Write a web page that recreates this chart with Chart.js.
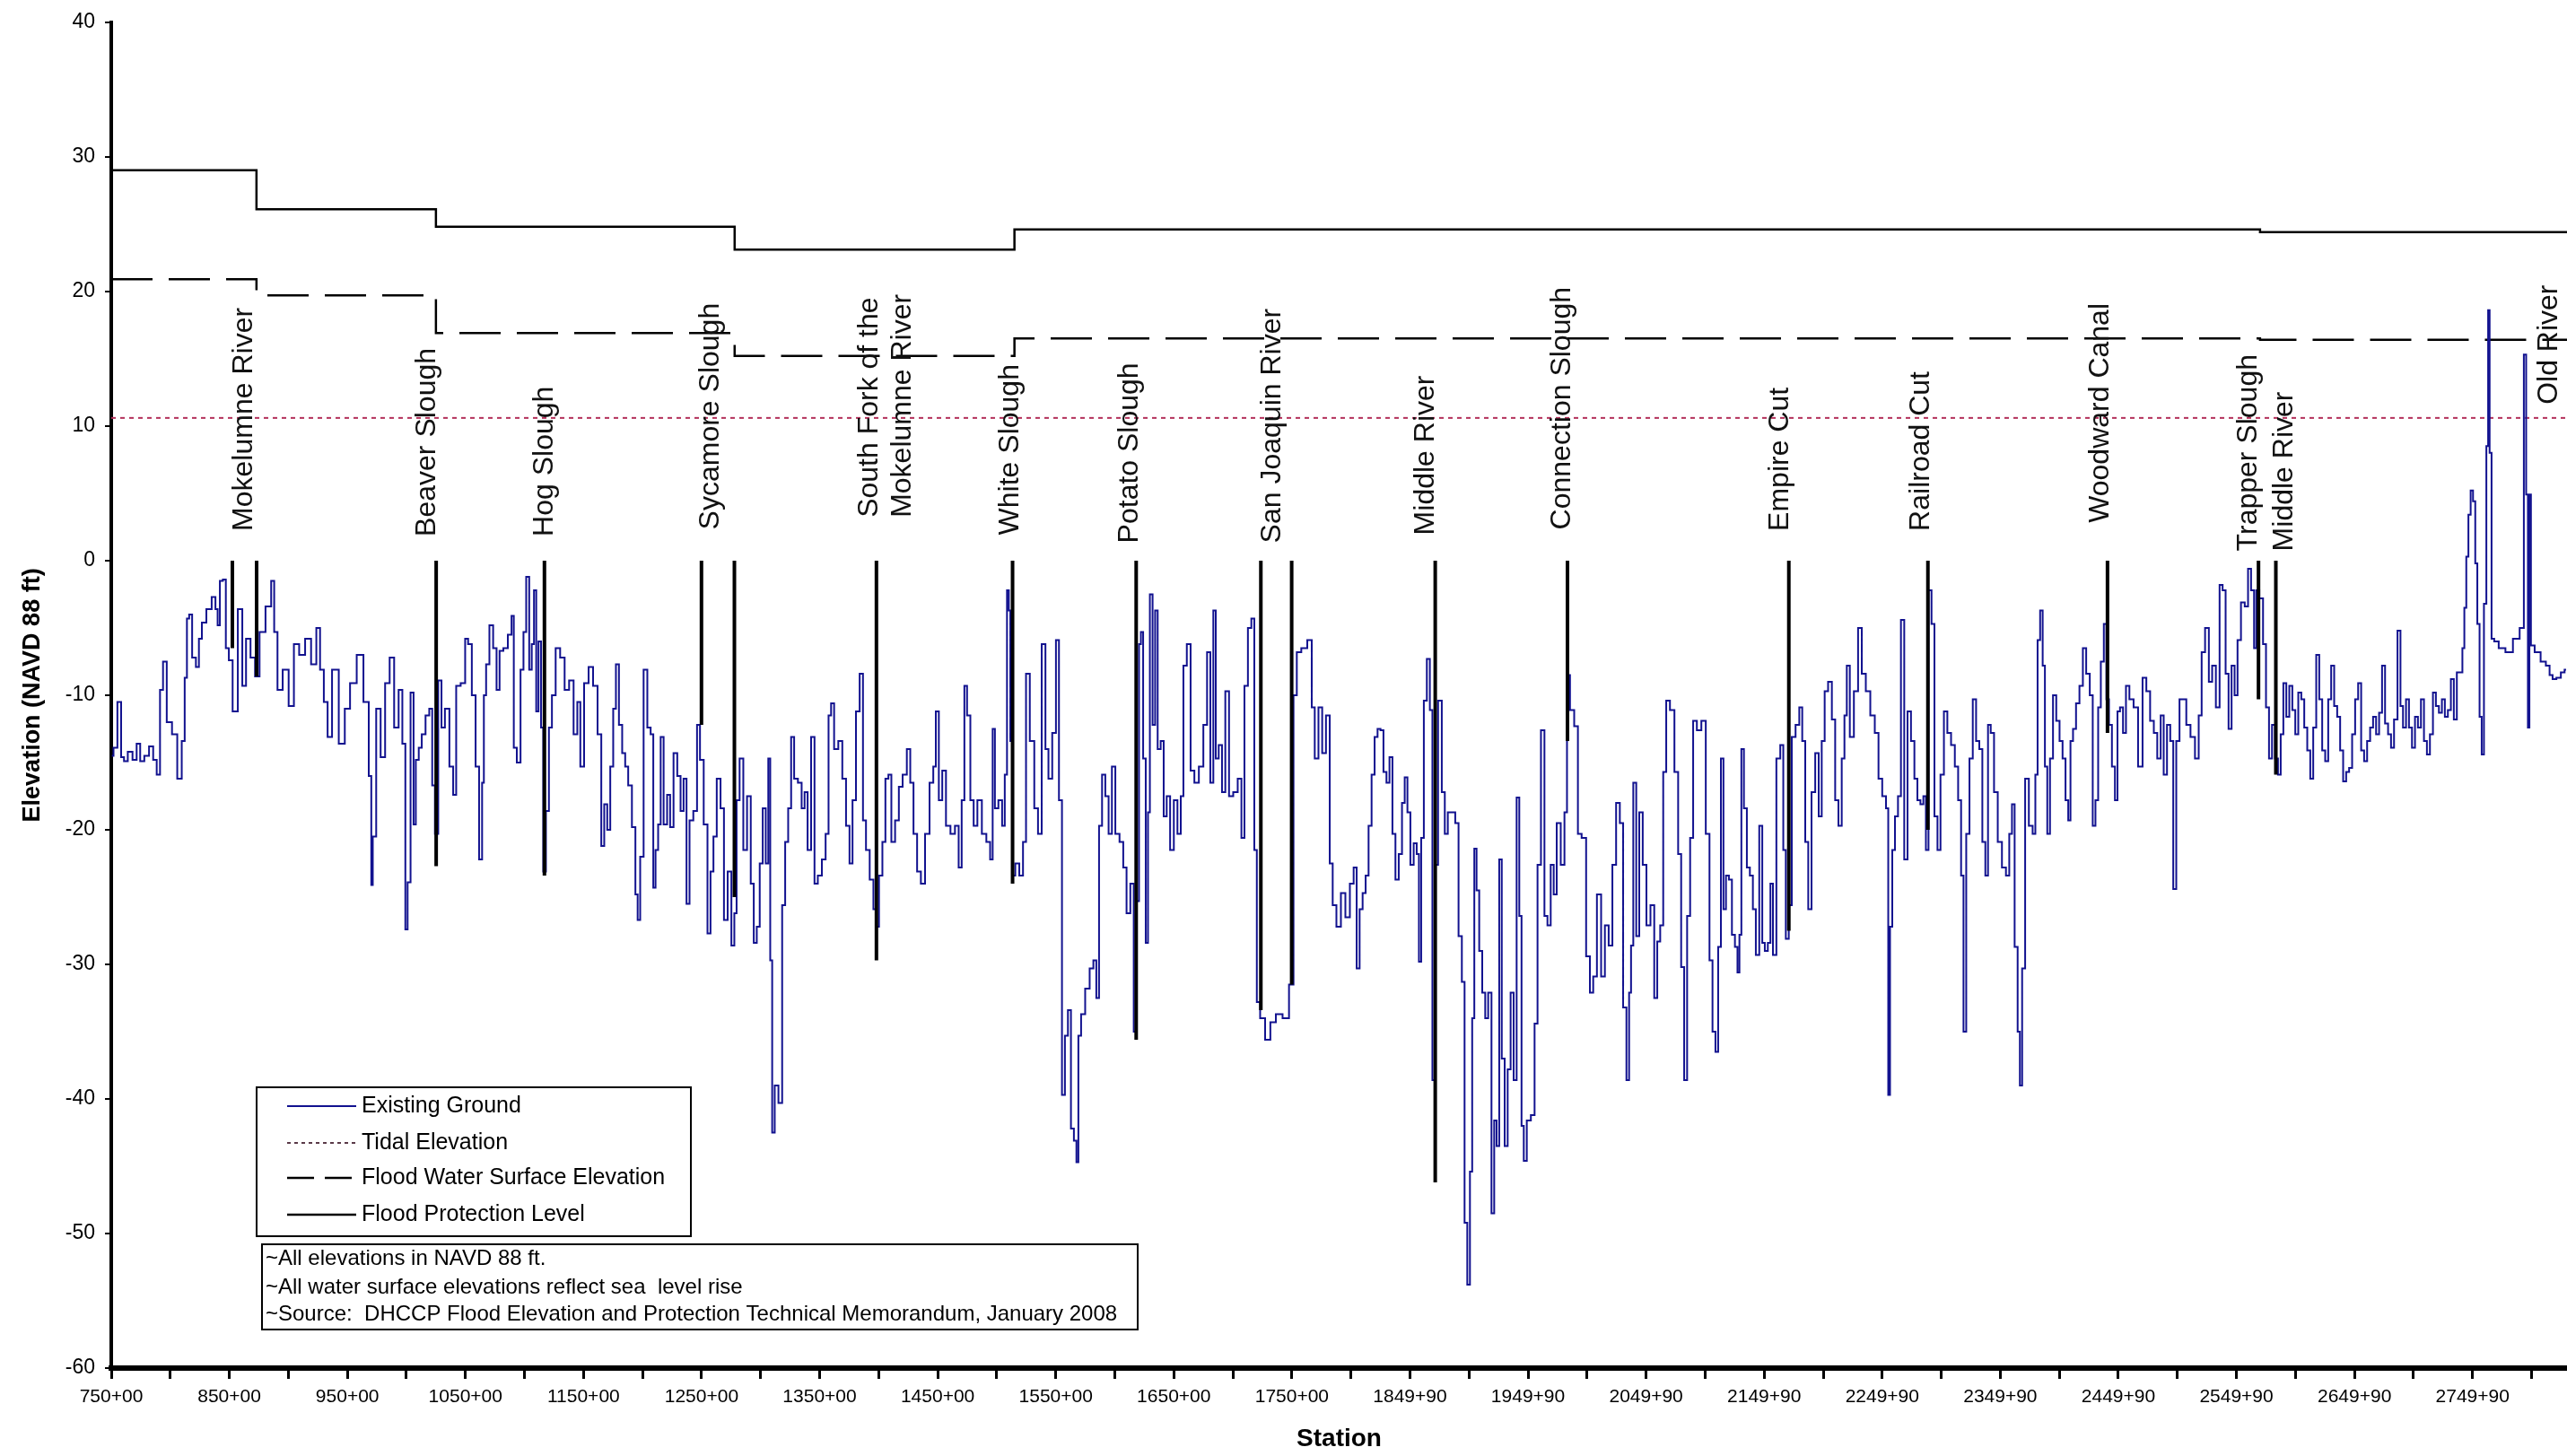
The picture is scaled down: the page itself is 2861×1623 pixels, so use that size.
<!DOCTYPE html>
<html>
<head>
<meta charset="utf-8">
<script src="https://cdn.jsdelivr.net/npm/chart.js@4.4.1/dist/chart.umd.min.js"></script>
<style>
html,body{margin:0;padding:0;background:#fff;}
#wrap{width:2861px;height:1623px;position:relative;background:#fff;}
</style>
</head>
<body>
<div id="wrap"><canvas id="c" width="2861" height="1623"></canvas></div>
<script>
// ---------------- DATA ----------------
const xTickLabels = ['750+00','850+00','950+00','1050+00','1150+00','1250+00','1350+00','1450+00','1550+00','1650+00','1750+00',
  '1849+90','1949+90','2049+90','2149+90','2249+90','2349+90','2449+90','2549+90','2649+90','2749+90'];
const stationMin = 750;
const stationMax = 2830;
const yTickValues = [-60,-50,-40,-30,-20,-10,0,10,20,30,40];

// Existing Ground profile: [station, elevation]
const groundProfile = [
[750.5,-14.5],[753.3,-13.9],[757.1,-10.5],[759.6,-14.6],[762,-14.9],[766,-14.2],[770,-14.8],[773,-13.6],[776,-14.9],[780,-14.5],[784,-13.8],[787,-14.8],[790,-15.9],
[792.6,-9.6],[795.1,-7.5],[798.9,-12],[804,-12.9],[807.8,-16.2],[811.6,-13.4],[812.8,-8.7],[815.4,-4.3],[816.6,-4],[820.4,-7.2],[823,-7.9],[825.5,-5.8],[828,-4.6],
[833.1,-3.6],[837,-2.7],[839.5,-3.6],[840.7,-4.8],[843.3,-1.5],[845.8,-1.4],[848.3,-6.5],[850.9,-7.4],[854.7,-11.2],[859.7,-3.6],[862.3,-9.3],[866,-5.8],[869.9,-7.2],
[873.7,-8.6],[877.5,-5.3],[883.8,-3.4],[887.1,-1.5],[888.9,-5.3],[892.7,-9.6],[897.7,-8.1],[902.8,-10.8],[906.6,-6.2],[911.7,-7],[916.7,-5.8],[921.8,-7.7],[925.6,-5],
[928.1,-8.1],[932,-10.5],[934.5,-13.1],[939.5,-8.1],[945.9,-13.6],[949.7,-11],[954.8,-9.1],[961,-7],[966.2,-10.5],[970,-16],[970.5,-24.1],[972.5,-20.5],[976.3,-11],
[980,-14.6],[983.9,-9.1],[987.7,-7.2],[991.5,-12.4],[995.3,-9.6],[997.8,-13.6],[1000.4,-27.4],[1001.6,-23.9],[1005.4,-9.8],[1006.7,-19.6],[1009.2,-14.8],[1011.7,-13.9],
[1014.3,-12.9],[1018.1,-11.5],[1020.6,-11],[1023.1,-16.7],[1025.2,-20.3],[1028.7,-8.9],[1030.7,-12.4],[1034.5,-11],[1038.3,-15.3],[1040.9,-17.4],[1043.4,-9.3],
[1048.5,-9.1],[1051,-5.8],[1053.5,-6.2],[1057.3,-10],[1059.9,-15.3],[1063.2,-22.2],[1065,-16.5],[1066.2,-10],[1068.8,-7.7],[1071.8,-4.8],[1075.1,-6.5],[1077.6,-9.6],
[1080.2,-6.7],[1084,-6.5],[1087.8,-5.5],[1090.3,-4.1],[1091.6,-13.9],[1095.4,-15],[1097.9,-8.1],[1100.4,-5.3],[1102.5,-1.2],[1105.5,-8.1],[1106.8,-6.2],[1109.3,-2.2],
[1110.6,-11.2],[1113.1,-6],[1114.9,-12.4],[1116.9,-23.1],[1119.4,-18.6],[1122,-12.4],[1124.5,-10],[1128.3,-6.5],[1132.1,-7.2],[1135.9,-9.6],[1139.7,-8.9],[1143.5,-12.9],
[1146,-10.5],[1148.6,-15.3],[1152.4,-9.1],[1156.2,-7.9],[1160,-9.3],[1163.8,-12.9],[1166.3,-21.2],[1168.8,-18.1],[1171.4,-20],[1173.9,-15.3],[1176.4,-11],[1178.5,-7.7],
[1181.5,-12.2],[1184,-14.3],[1186.6,-15.3],[1189.1,-16.7],[1192.9,-19.8],[1195,-24.8],[1196.7,-26.7],[1199.3,-22],[1202.5,-8.1],[1205.6,-12.4],[1208.1,-12.9],
[1210.1,-24.3],[1211.9,-21.5],[1214.5,-19.6],[1216.2,-13.1],[1219.5,-19.6],[1222.1,-17.4],[1224.6,-19.8],[1227.9,-14.3],[1230.9,-16],[1233.5,-18.6],[1236,-16.2],
[1238.5,-25.5],[1241.1,-19.3],[1244.9,-18.6],[1247.4,-12.2],[1249.9,-14.8],[1253.7,-19.6],[1256.3,-27.7],[1258.8,-23.1],[1261.3,-20.5],[1264.4,-16.2],[1267.7,-18.4],
[1270.2,-26.7],[1274,-23.1],[1276.5,-28.6],[1279,-26.2],[1280.3,-17.8],[1284.1,-14.7],[1286.6,-21.5],[1290.4,-17.5],[1292.9,-24],[1295.5,-28.4],[1298,-27.2],
[1300.5,-22.5],[1303.1,-18.4],[1305.6,-22.5],[1307.4,-14.7],[1308.9,-29.7],[1310.7,-42.5],[1313.2,-39],[1317,-40.3],[1319.5,-25.6],[1322.1,-20.9],[1324.6,-18.4],
[1327.1,-13.1],[1329.7,-16.2],[1333.5,-16.5],[1336,-18.4],[1338.5,-17.2],[1341.1,-21.5],[1344.4,-13.1],[1346.9,-24],[1350,-23.4],[1353.8,-22.2],[1356.3,-20.3],
[1358.8,-11.5],[1360.6,-10.6],[1363.9,-14],[1367.7,-13.4],[1370.7,-16.2],[1374,-19.7],[1376.6,-22.5],[1379.1,-17.8],[1382.4,-11.2],[1385.4,-8.4],[1388,-19.3],
[1390.5,-21.5],[1394.3,-23.7],[1396.8,-25.9],[1398.6,-27.2],[1401.9,-23.4],[1404.4,-20.9],[1407,-16.2],[1409.5,-15.9],[1412,-20.9],[1415.8,-19.3],[1418.4,-16.8],
[1422.2,-15.9],[1425.5,-14],[1428,-16.5],[1431,-20.3],[1434.1,-23.1],[1437.4,-24],[1441.2,-20.3],[1445,-16.5],[1447.5,-15.3],[1449.3,-11.2],[1452.6,-17.8],
[1455.1,-15.6],[1458.9,-19.7],[1462.7,-20.3],[1466.5,-19.7],[1469,-22.8],[1471.6,-17.8],[1473.6,-9.3],[1476.1,-11.5],[1479.2,-17.8],[1481.7,-19.7],[1485.5,-17.8],
[1489.3,-20.3],[1493.1,-20.9],[1495.7,-22.2],[1497.4,-12.5],[1499.5,-18.4],[1503.3,-17.8],[1505.8,-19.7],[1507.8,-15.9],[1509.6,-2.2],[1510.9,-3.7],[1512.1,-13.4],
[1514.2,-23.4],[1517.2,-22.5],[1521,-23.4],[1523.5,-20.9],[1526.1,-8.4],[1529.9,-13.4],[1533.7,-18.4],[1536.2,-20.3],[1540,-6.2],[1542.5,-14],[1545.1,-16.2],
[1548.9,-12.8],[1551.4,-5.9],[1554,-17.8],[1556.5,-39.7],[1559,-35.3],[1561.6,-33.4],[1564.1,-42.2],[1566.6,-43.1],[1568.4,-44.7],[1569.9,-35.3],[1573,-33.7],
[1576.8,-31.8],[1580.6,-30.3],[1583.1,-29.7],[1585.6,-32.5],[1587.7,-19.7],[1590.7,-15.9],[1593.2,-17.5],[1596.3,-20.3],[1598.8,-15.3],[1602.1,-20.3],[1605.9,-20.9],
[1608.4,-22.8],[1611.5,-26.2],[1614.8,-24],[1617.3,-35],[1619.9,-25.3],[1621.1,-6.2],[1623.1,-5.3],[1624.9,-14.7],[1627.5,-28.4],[1628.7,-18.7],[1630.7,-2.5],
[1633.3,-12.2],[1635,-3.7],[1637.6,-14],[1640.1,-13.4],[1642.7,-19],[1645.2,-17.5],[1648.5,-21.5],[1651.5,-17.8],[1654.6,-20.3],[1657.1,-17.5],[1659.1,-7.8],
[1662.9,-6.2],[1665.5,-15.6],[1669.3,-16.5],[1673.1,-15.3],[1676.9,-12.2],[1679.4,-6.8],[1682.4,-16.5],[1684.5,-3.7],[1686.5,-14.7],[1689.5,-13.7],[1692.1,-17.2],
[1695.1,-9.7],[1698.4,-17.5],[1702.2,-17.2],[1706,-16.2],[1708.5,-20.6],[1711.1,-9.3],[1714.4,-5],[1716.9,-4.3],[1719.4,-21.5],[1721.2,-32.8],[1725,-34],
[1729.6,-35.6],[1733.9,-34.3],[1738.9,-33.7],[1745.3,-34],[1749.8,-31.5],[1752.9,-10],[1755.4,-6.8],[1760.5,-6.5],[1765.5,-5.9],[1768.1,-10.9],[1770.6,-14.7],
[1774.4,-10.9],[1776.9,-14.3],[1780.8,-11.5],[1783.3,-22.5],[1785.8,-25.6],[1789.6,-27.2],[1793.4,-24.7],[1797.2,-26.5],[1801,-24],[1803.6,-22.8],[1806.1,-30.3],
[1808.6,-25.9],[1811.2,-24.7],[1813.7,-23.4],[1816.2,-19.7],[1818.8,-15.9],[1821.3,-13.1],[1823.8,-12.5],[1826.3,-12.6],[1828.8,-15.7],[1831.4,-16.5],[1833.9,-14.6],
[1836.4,-20.3],[1839,-23.7],[1842,-21.8],[1844.5,-18],[1846.6,-16.1],[1849.1,-18.7],[1851.6,-22.6],[1854.7,-21],[1856.7,-21.8],[1858.5,-29.8],[1860.5,-20.6],
[1863,-10.4],[1865.6,-7.3],[1868.1,-11.1],[1869.9,-38.6],[1871.9,-22.6],[1875.7,-10.4],[1878.2,-17.2],[1880.8,-20.3],[1883.3,-18.7],[1887.1,-18.7],[1889.6,-19.5],
[1892.7,-27.9],[1895.2,-31.3],[1897.3,-49.2],[1899.8,-53.8],[1901.8,-45.4],[1903.6,-34],[1905.4,-21.4],[1907.4,-24.5],[1909.9,-29],[1912.5,-32.1],[1915,-34],
[1917.5,-32.1],[1920.6,-48.5],[1922.1,-41.6],[1924.6,-43.5],[1926.6,-22.2],[1928.9,-37],[1931.5,-43.5],[1934,-37.8],[1936.5,-32.1],[1939.1,-38.6],[1941.6,-17.6],
[1943.6,-26.4],[1945.4,-42],[1947.4,-44.6],[1950.5,-41.6],[1954.3,-41.2],[1956.8,-34.4],[1959.3,-22.6],[1962.6,-12.6],[1965.2,-26.4],[1967.7,-27.1],[1970.7,-22.6],
[1972.8,-24.8],[1975.8,-19.5],[1979.6,-22.6],[1982.1,-18.7],[1983.9,-8.5],[1987.2,-11.1],[1991,-12.3],[1993.5,-20.3],[1997.3,-20.6],[2001.1,-29.4],[2003.7,-32.1],
[2006.7,-30.9],[2010,-24.8],[2013.8,-30.9],[2016.4,-27.1],[2020.2,-28.6],[2022.7,-22.6],[2026.5,-18],[2029,-19.5],[2032.1,-33.2],[2034.6,-38.6],[2036.6,-32.1],
[2037.9,-28.6],[2040.4,-16.5],[2042.9,-27.9],[2045.5,-18.7],[2048.8,-22.6],[2051.8,-27.1],[2055.6,-25.6],[2058.2,-32.5],[2060.7,-28.3],[2063.2,-27.1],[2065.8,-15.7],
[2068.3,-10.4],[2072.1,-11.1],[2075.9,-15.7],[2078.4,-21.8],[2081,-30.2],[2083.5,-38.6],[2086,-26.4],[2088.6,-20.6],[2091.1,-11.9],[2094.9,-12.6],[2098.7,-11.9],
[2102.4,-20.3],[2105,-29.7],[2107.5,-35],[2110,-36.5],[2112.1,-28.7],[2114.6,-14.7],[2116.4,-25.9],[2118.9,-23.4],[2121.4,-23.7],[2124,-27.8],[2126.5,-28.7],
[2128.3,-30.6],[2129.8,-27.8],[2131.6,-14],[2134.1,-18.4],[2136.6,-22.8],[2139.2,-23.4],[2141.7,-25.9],[2144.2,-29.3],[2147.5,-19.7],[2149.3,-28.4],[2151.8,-29],
[2154.4,-28.4],[2156.2,-24],[2158.7,-29.3],[2162,-14.7],[2165.3,-13.7],[2167.1,-21.5],[2169.6,-28.1],[2172.1,-25.6],[2174.7,-13.1],[2178.5,-12.2],[2181,-10.9],
[2183.5,-13.4],[2186.1,-20.9],[2188.6,-25.9],[2191.6,-17.2],[2194.9,-14.3],[2197.5,-19],[2200,-13.4],[2202.5,-9.7],[2205.8,-9],[2208.9,-11.8],[2211.4,-17.8],
[2214.4,-19.7],[2217,-14.7],[2219,-11.5],[2221,-7.8],[2224.1,-13.1],[2227.9,-9.7],[2231.2,-5],[2234.2,-8.4],[2238,-9.7],[2241.8,-11.5],[2245.6,-12.8],[2248.1,-16.2],
[2251.9,-17.5],[2254.5,-18.4],[2255.7,-39.7],[2257.5,-27.2],[2259.5,-21.5],[2262.1,-19],[2264.6,-17.5],[2267.1,-4.4],[2270.2,-22.2],[2272.7,-11.2],[2276,-13.4],
[2278.5,-16.2],[2281.1,-17.8],[2283.6,-18.1],[2286.1,-17.5],[2287.9,-21.5],[2290.5,-2.2],[2293,-4.7],[2295.5,-19],[2298.1,-21.5],[2300.6,-15.9],[2303.9,-11.2],
[2306.4,-12.8],[2310.2,-13.7],[2312.8,-15.3],[2315.8,-17.8],[2317.8,-23.4],[2319.9,-35],[2322.4,-20.3],[2325.4,-14.7],[2328,-10.3],[2331,-13.4],[2333.5,-14],
[2336.1,-20.9],[2338.6,-23.4],[2340.6,-12.2],[2343.2,-12.8],[2346.2,-17.2],[2349.5,-20.9],[2353.3,-22.8],[2356.3,-23.4],[2358.9,-20.3],[2360.9,-18.1],[2363.4,-28.7],
[2366,-35],[2367.2,-39],[2369.8,-30.3],[2372.3,-16.2],[2376.1,-19.7],[2378.7,-20.3],[2380.7,-15.9],[2382.5,-5.9],[2385,-3.7],[2386.8,-7.8],[2388.8,-15.3],
[2390.8,-20.3],[2393.4,-14.7],[2395.9,-10],[2398.9,-11.9],[2401.5,-13.4],[2404,-14.7],[2406.5,-17.8],[2408.6,-19.3],[2410.3,-13.4],[2412.9,-12.5],[2415.4,-10.6],
[2418.7,-9.3],[2421.2,-6.5],[2424.3,-8.4],[2427.3,-10],[2429.3,-19.7],[2431.9,-17.8],[2433.9,-10.9],[2436.4,-7.5],[2439,-4.7],[2440.8,-10.3],[2443.3,-12.2],
[2445.8,-15.3],[2448.4,-17.8],[2450.1,-11.2],[2452.7,-10.9],[2455.2,-12.8],[2457.7,-9.3],[2461,-10.3],[2464.8,-10.9],[2468.6,-15.3],[2472.4,-8.7],[2475,-9.7],
[2478.8,-11.9],[2481.3,-12.8],[2484.6,-14.7],[2487.1,-11.5],[2489.7,-15.9],[2492.7,-12.2],[2495.2,-13.4],[2497.8,-24.4],[2500.3,-13.4],[2503.3,-10.3],[2505.9,-10.3],
[2509.2,-12.2],[2513,-13.1],[2516.8,-14.7],[2519.3,-11.5],[2521.8,-6.8],[2525.1,-5],[2528.2,-9],[2530.7,-7.8],[2534.5,-10.9],[2537,-1.8],[2539.6,-2.2],[2542.1,-8.4],
[2544.6,-12.5],[2547.2,-7.8],[2549.7,-10],[2552.2,-5.9],[2555.5,-3.1],[2558.6,-3.4],[2561.1,-0.6],[2563.7,-2.2],[2566.2,-6.5],[2567.5,-2.2],[2571.3,-2.8],
[2573.8,-6.2],[2576.3,-10.9],[2578.9,-14.7],[2581.4,-12.2],[2583.9,-14.7],[2586.5,-15.9],[2588.5,-12.9],[2591,-9.1],[2593.5,-11.6],[2596.1,-9.3],[2598.6,-11.1],
[2601.1,-12.9],[2603.7,-9.8],[2606.2,-10.3],[2608.7,-12.4],[2611.3,-14.1],[2613.8,-16.2],[2616.3,-12.4],[2618.9,-7],[2621.4,-10.3],[2623.9,-14.1],[2626.5,-14.9],
[2629,-10.3],[2631.5,-7.8],[2634.1,-10.8],[2636.6,-11.6],[2639.1,-14.1],[2641.7,-16.4],[2644.2,-15.7],[2646.7,-15.4],[2649.3,-12.9],[2651.8,-10.3],[2654.4,-9.1],
[2656.9,-14.1],[2659.4,-14.9],[2662,-13.4],[2664.5,-12.4],[2667,-11.6],[2669.6,-12.9],[2672.1,-11.3],[2674.6,-7.8],[2677.2,-12.1],[2679.7,-12.9],[2682.2,-13.9],
[2684.8,-11.8],[2688.1,-5.2],[2689.8,-10.8],[2692.4,-12.4],[2694.9,-10.3],[2697.4,-12.4],[2700,-13.9],[2702.5,-11.6],[2705,-12.4],[2707.6,-10.3],[2710.1,-13.4],
[2712.6,-14.4],[2715.2,-12.9],[2717.7,-9.8],[2720.2,-10.8],[2722.8,-11.3],[2725.3,-10.3],[2727.8,-11.6],[2730.4,-11.1],[2732.9,-8.8],[2735.4,-11.8],[2738,-8.3],
[2740.5,-8.3],[2742.3,-6.5],[2743.8,-3.5],[2745.6,0.3],[2747.4,3.4],[2749.4,5.2],[2751.4,4.4],[2753.2,-0.2],[2754.9,-4.7],[2757,-11.6],[2758.5,-14.4],[2760.8,-3.2],
[2762.6,8.5],[2763.8,18.6],[2765.1,8],[2767.1,-5.8],[2769.6,-6],[2774.7,-6.5],[2781,-6.8],[2787.4,-5.8],[2792.4,-5],[2794.5,15.3],[2796.3,4.9],[2797.5,-12.4],
[2798.8,4.9],[2800.1,-6.3],[2805.1,-6.8],[2810.2,-7.5],[2814,-7.8],[2816.5,-8.5],[2819.1,-8.8],[2822.9,-8.7],[2826.7,-8.3],[2829.2,-8.1]
];

const tidalElevation = 10.6;
const levelBreakStations = [750, 873, 1025, 1278, 1515, 2570, 2830];
const floodProtectionLevel = [29, 26.1, 24.8, 23.1, 24.6, 24.4];
const floodWaterSurface = [20.9, 19.7, 16.9, 15.2, 16.5, 16.4];

const channelStations = [852.6, 873.1, 1025.2, 1116.9, 1249.9, 1277.8, 1398.1, 1513.4, 1618.1, 1723.7, 1749.8, 1871.4, 1983.4, 2170.9, 2288.7, 2440.8, 2568.7, 2583.4];
const channelBottoms  = [-6.5, -8.6, -22.7, -23.4, -12.2, -25, -29.7, -24, -35.6, -33.4, -31.5, -46.2, -13.4, -27.5, -20, -12.8, -10.3, -15.9];

const riverNames = [['Mokelumne River'],['Beaver Slough'],['Hog Slough'],['Sycamore Slough'],['South Fork of the','Mokelumne River'],
  ['White Slough'],['Potato Slough'],['San Joaquin River'],['Middle River'],['Connection Slough'],['Empire Cut'],['Railroad Cut'],
  ['Woodward Canal'],['Trapper Slough'],['Middle River'],['Old River']];
const riverLabelStations = [862.3, 1017.7, 1117.5, 1257.6, 1406, 1511.4, 1612.7, 1733.4, 1863.7, 1978.9, 2163.3, 2282.6, 2435.1, 2560, 2590.5, 2815];
const riverLabelBase = [2.2, 1.8, 1.8, 2.3, 3.2, 1.9, 1.3, 1.3, 1.9, 2.3, 2.2, 2.2, 2.8, 0.7, 0.7, 11.6];

const legendLabels = ['Existing Ground','Tidal Elevation','Flood Water Surface Elevation','Flood Protection Level'];
const noteLines = ['~All elevations in NAVD 88 ft.','~All water surface elevations reflect sea  level rise',
  '~Source:  DHCCP Flood Elevation and Protection Technical Memorandum, January 2008'];

// ---------------- BUILD ----------------
const FONT = '"Liberation Sans", Arial, sans-serif';
const groundColor = '#12128f';
const tidalColor = '#b3305a';

function stepData(levels){
  return levelBreakStations.map((s,i)=>({x:s, y: levels[Math.min(i, levels.length-1)]}));
}
const channelData = [];
channelStations.forEach((s,i)=>{
  channelData.push({x:s,y:0},{x:s,y:channelBottoms[i]},{x:s,y:null});
});

const riverLabelsPlugin = {
  id:'riverLabels',
  afterDatasetsDraw(chart){
    const {ctx, scales:{x,y}} = chart;
    ctx.save();
    ctx.font = '32px ' + FONT;
    ctx.fillStyle = '#111';
    ctx.textAlign = 'left';
    ctx.textBaseline = 'middle';
    riverNames.forEach((lines,i)=>{
      const px = x.getPixelForValue(riverLabelStations[i]);
      const py = y.getPixelForValue(riverLabelBase[i]);
      ctx.save();
      ctx.translate(px,py);
      ctx.rotate(-Math.PI/2);
      const lh = 37;
      lines.forEach((t,j)=>ctx.fillText(t, 0, (j-(lines.length-1)/2)*lh));
      ctx.restore();
    });
    ctx.restore();
  }
};

const boxesPlugin = {
  id:'boxes',
  afterDraw(chart){
    const ctx = chart.ctx;
    ctx.save();
    // legend box
    const L = {x:286, y:1212, w:484, h:166};
    ctx.fillStyle = '#fff';
    ctx.fillRect(L.x, L.y, L.w, L.h);
    ctx.strokeStyle = '#000'; ctx.lineWidth = 2; ctx.setLineDash([]);
    ctx.strokeRect(L.x, L.y, L.w, L.h);
    const rows = [1233, 1274, 1313, 1354];
    const styles = [
      {c:groundColor, d:[], w:2},
      {c:'#5a3a48', d:[4,4], w:2},
      {c:'#000', d:[30,12], w:2.5},
      {c:'#000', d:[], w:2.5}
    ];
    ctx.font = '25px ' + FONT;
    ctx.textBaseline = 'middle'; ctx.textAlign = 'left';
    legendLabels.forEach((t,i)=>{
      const st = styles[i];
      ctx.beginPath();
      ctx.strokeStyle = st.c; ctx.lineWidth = st.w; ctx.setLineDash(st.d);
      ctx.moveTo(320, rows[i]); ctx.lineTo(397, rows[i]); ctx.stroke();
      ctx.setLineDash([]);
      ctx.fillStyle = '#000';
      ctx.fillText(t, 403, rows[i]);
    });
    // notes box
    const N = {x:292, y:1387, w:976, h:95};
    ctx.fillStyle = '#fff';
    ctx.fillRect(N.x, N.y, N.w, N.h);
    ctx.strokeStyle = '#000'; ctx.lineWidth = 2;
    ctx.strokeRect(N.x, N.y, N.w, N.h);
    ctx.fillStyle = '#000';
    ctx.font = '24px ' + FONT;
    const nrows = [1403, 1435, 1465];
    noteLines.forEach((t,i)=>ctx.fillText(t, 296, nrows[i]));
    ctx.restore();
  }
};

const ctx = document.getElementById('c').getContext('2d');
new Chart(ctx, {
  type:'line',
  data:{
    datasets:[
      {label:'Channels', data:channelData, borderColor:'#000', borderWidth:4, pointRadius:0, spanGaps:false, tension:0},
      {label:'Existing Ground', data:groundProfile.map(p=>({x:p[0], y:p[1]})), borderColor:groundColor, borderWidth:2, pointRadius:0, tension:0, stepped:'middle'},
      {label:'Flood Protection Level', data:stepData(floodProtectionLevel), borderColor:'#000', borderWidth:2.5, pointRadius:0, stepped:'before'},
      {label:'Flood Water Surface Elevation', data:stepData(floodWaterSurface), borderColor:'#000', borderWidth:2.5, borderDash:[46,18], pointRadius:0, stepped:'before'},
      {label:'Tidal Elevation', data:[{x:stationMin,y:tidalElevation},{x:stationMax,y:tidalElevation}], borderColor:tidalColor, borderWidth:2, borderDash:[5,5], pointRadius:0}
    ]
  },
  options:{
    responsive:false,
    animation:false,
    devicePixelRatio:1,
    layout:{padding:{top:18, right:0, bottom:0, left:0}},
    plugins:{legend:{display:false}, tooltip:{enabled:false}},
    scales:{
      x:{
        type:'linear', min:stationMin, max:stationMax,
        afterBuildTicks:(s)=>{ const t=[]; for(let v=stationMin; v<=stationMax; v+=50) t.push({value:v}); s.ticks=t; },
        ticks:{autoSkip:false, maxRotation:0, minRotation:0, color:'#000', padding:8,
          font:{size:21, family:FONT},
          callback:(v)=>{ const k=(v-stationMin)/100; return Number.isInteger(k) ? (xTickLabels[k]||'') : ''; }},
        grid:{drawOnChartArea:false, drawTicks:true, tickLength:12, color:'#000', lineWidth:3},
        border:{display:true, color:'#000', width:6},
        title:{display:true, text:'Station', color:'#000', font:{size:28, weight:'bold', family:FONT}, padding:{top:0, bottom:2}},
        afterFit:(s)=>{ s.height = 98; }
      },
      y:{
        type:'linear', min:-60, max:40,
        afterBuildTicks:(s)=>{ s.ticks = yTickValues.map(v=>({value:v})); },
        ticks:{color:'#000', padding:11, font:{size:23, family:FONT}, callback:(v)=>String(v)},
        grid:{drawOnChartArea:false, drawTicks:true, tickLength:7, color:'#000', lineWidth:2},
        border:{display:true, color:'#000', width:4},
        title:{display:true, text:'Elevation (NAVD 88 ft)', color:'#000', font:{size:27, weight:'bold', family:FONT}, padding:{top:20, bottom:0}},
        afterFit:(s)=>{ s.width = 124; }
      }
    }
  },
  plugins:[riverLabelsPlugin, boxesPlugin]
});
</script>
</body>
</html>
